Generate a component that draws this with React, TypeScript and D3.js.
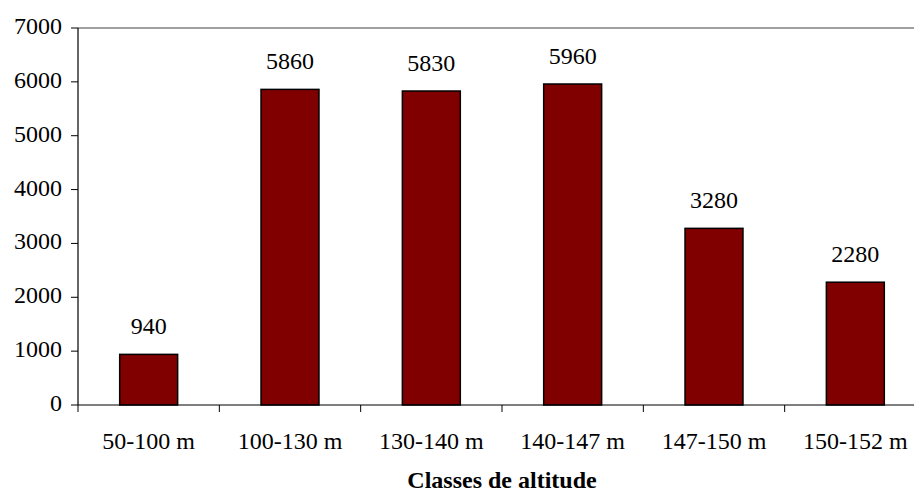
import React from 'react'
import * as d3 from 'd3'

const categories = ['50-100 m', '100-130 m', '130-140 m', '140-147 m', '147-150 m', '150-152 m']
const values = [940, 5860, 5830, 5960, 3280, 2280]
const yTicks = [0, 1000, 2000, 3000, 4000, 5000, 6000, 7000]
const axisTitle = 'Classes de altitude'

const FONT = 'Liberation Serif'

export default function App() {
  const width = 914
  const height = 494
  const left = 78
  const right = 926
  const top = 28
  const bottom = 405

  const y = d3.scaleLinear().domain([0, 7000]).range([bottom, top])
  const slots = d3.scaleBand<string>().domain(categories).range([left, right]).padding(0)
  const x = d3
    .scaleBand<string>()
    .domain(categories)
    .range([left, right])
    .paddingInner(0.59)
    .paddingOuter(0.295)

  return (
    <div style={{ position: 'absolute', left: 0, top: 0, width, height, background: '#fff' }}>
      <svg width={width} height={height} style={{ display: 'block' }} fontFamily={FONT}>
        {/* top border of plot area */}
        <line x1={left} x2={right} y1={top} y2={top} stroke="#808080" strokeWidth={1.5} />

        {/* bars */}
        {values.map((v, i) => (
          <rect
            key={categories[i]}
            x={x(categories[i]) ?? 0}
            y={y(v)}
            width={x.bandwidth()}
            height={bottom - y(v)}
            fill="#800000"
            stroke="#000"
            strokeWidth={1.5}
          />
        ))}

        {/* value labels */}
        {values.map((v, i) => (
          <text
            key={'v' + i}
            x={(x(categories[i]) ?? 0) + x.bandwidth() / 2}
            y={y(v) - 20}
            textAnchor="middle"
            fontFamily={FONT}
            fontSize={24}
            fill="#000"
          >
            {v}
          </text>
        ))}

        {/* y axis */}
        <line x1={left} x2={left} y1={top} y2={bottom} stroke="#000" strokeWidth={1.2} />
        {yTicks.map((t) => (
          <g key={'y' + t}>
            <line x1={left - 7} x2={left} y1={y(t)} y2={y(t)} stroke="#000" strokeWidth={1} />
            <text x={62} y={y(t) + 6} textAnchor="end" fontFamily={FONT} fontSize={24} fill="#000">
              {t}
            </text>
          </g>
        ))}

        {/* x axis */}
        <line x1={left} x2={right} y1={bottom} y2={bottom} stroke="#000" strokeWidth={1.2} />
        {categories.map((c) => (
          <g key={'x' + c}>
            <line x1={slots(c) ?? 0} x2={slots(c) ?? 0} y1={bottom} y2={bottom + 7} stroke="#000" strokeWidth={1} />
            <text
              x={(slots(c) ?? 0) + slots.bandwidth() / 2}
              y={449}
              textAnchor="middle"
              fontFamily={FONT}
              fontSize={24}
              fill="#000"
            >
              {c}
            </text>
          </g>
        ))}

        <text
          x={(left + right) / 2}
          y={488}
          textAnchor="middle"
          fontFamily={FONT}
          fontSize={24}
          fontWeight="bold"
          fill="#000"
        >
          {axisTitle}
        </text>
      </svg>
    </div>
  )
}
